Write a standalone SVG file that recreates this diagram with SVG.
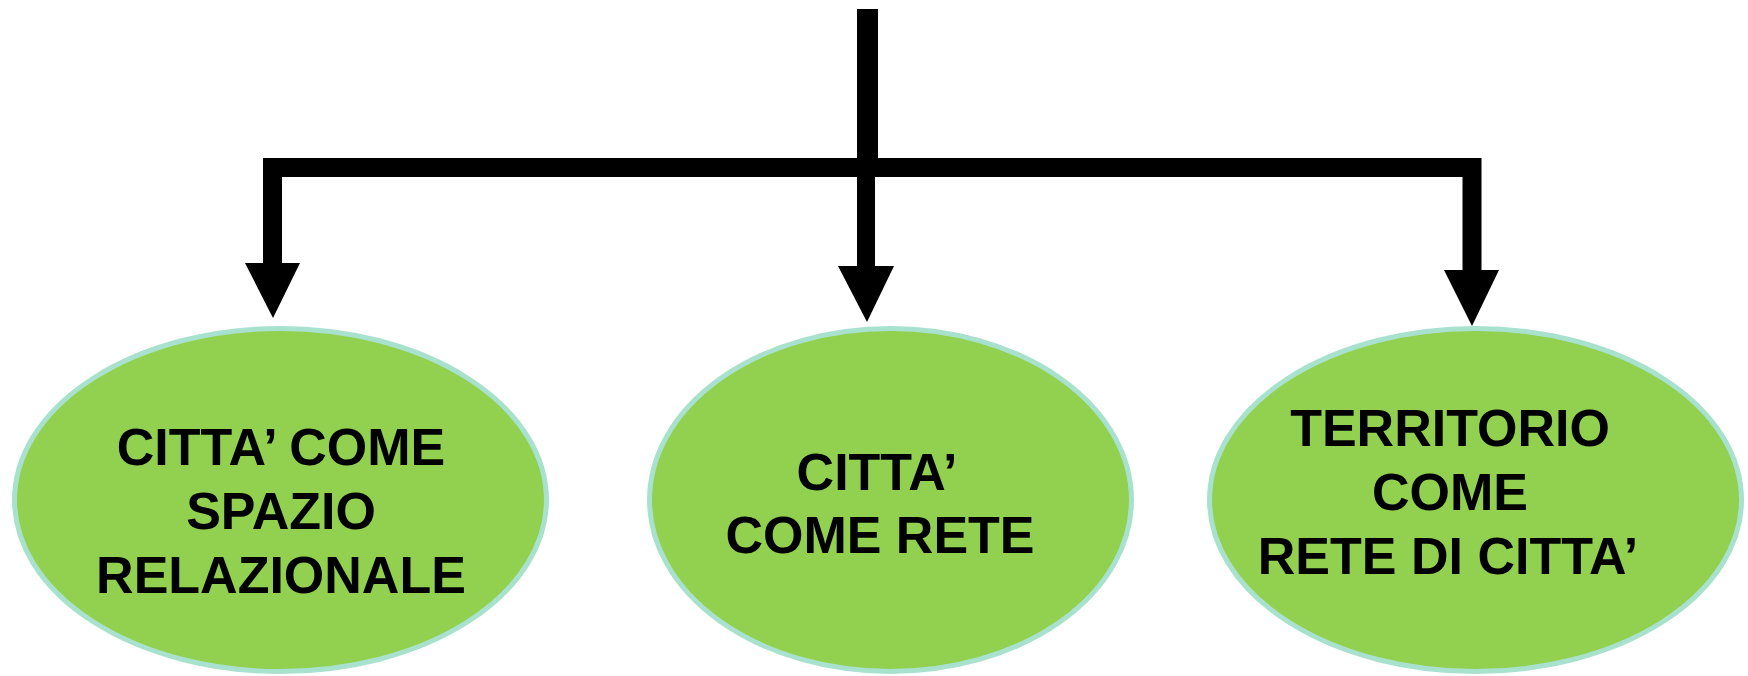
<svg xmlns="http://www.w3.org/2000/svg" width="1748" height="676" viewBox="0 0 1748 676">
<style>
.node ellipse{fill:#92d050;stroke:#a8e2cf;stroke-width:5}
.node text{font-family:"Liberation Sans",Arial,sans-serif;font-weight:bold;font-size:52px;fill:#000;text-anchor:middle}
.conn{fill:none;stroke:#000;stroke-linejoin:miter;stroke-linecap:butt}
.head{fill:#000}
</style>
<rect width="1748" height="676" fill="#fff"/>
<g id="connectors">
<path class="conn" d="M867.5,9 V168" stroke-width="21"/>
<path class="conn" d="M272.5,263 V167.5 H1472 V270" stroke-width="19"/>
<path class="conn" d="M866,160 V266" stroke-width="18"/>
<polygon class="head" points="245,263 300,263 273,318"/>
<polygon class="head" points="838,266 894,266 867,322"/>
<polygon class="head" points="1444,270 1499,270 1472,326"/>
</g>
<g id="node-left" class="node">
<ellipse cx="280.5" cy="500" rx="266" ry="171.5"/>
<text x="281" y="465">CITTA’ COME</text>
<text x="281" y="529">SPAZIO</text>
<text x="281" y="593">RELAZIONALE</text>
</g>
<g id="node-middle" class="node">
<ellipse cx="890.5" cy="500" rx="241" ry="171.5"/>
<text x="877" y="490">CITTA’</text>
<text x="880" y="553">COME RETE</text>
</g>
<g id="node-right" class="node">
<ellipse cx="1475.5" cy="500" rx="266" ry="171.5"/>
<text x="1450" y="446">TERRITORIO</text>
<text x="1450" y="510">COME</text>
<text x="1448" y="574">RETE DI CITTA’</text>
</g>
</svg>
